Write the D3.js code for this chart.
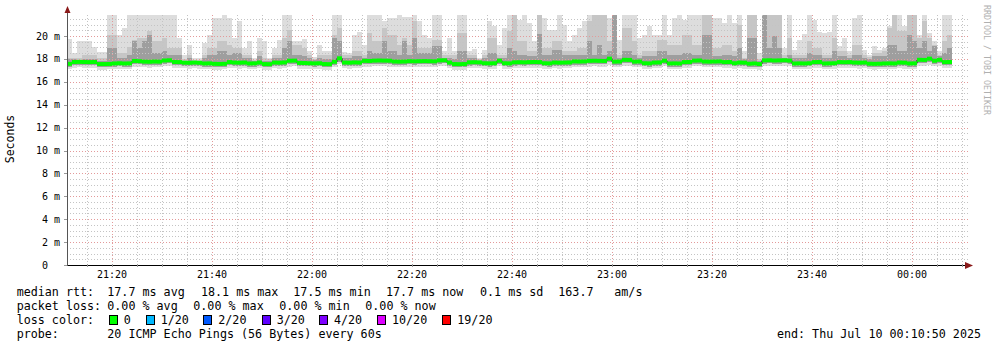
<!DOCTYPE html>
<html>
<head>
<meta charset="utf-8">
<script src="https://cdn.jsdelivr.net/npm/d3@7"></script>
<style>
  body { margin: 0; background: #fff; }
  text { font-family: "DejaVu Sans Mono", monospace; }
</style>
</head>
<body>
<div id="chart"></div>
<script>
// one column per minute, 21:11 -> 00:08 (ms)
var rttMedian = [17.57,17.73,17.74,17.73,17.72,17.73,17.55,17.55,17.56,17.60,17.62,17.60,17.61,17.82,17.80,17.76,17.75,17.77,17.76,17.86,17.88,17.73,17.72,17.67,17.66,17.68,17.66,17.60,17.61,17.57,17.56,17.57,17.72,17.68,17.67,17.68,17.60,17.61,17.68,17.55,17.54,17.68,17.67,17.69,17.84,
  17.85,17.65,17.64,17.62,17.61,17.62,17.55,17.54,17.75,18.05,17.68,17.67,17.69,17.68,17.83,17.82,17.85,17.86,17.85,17.84,17.77,17.76,17.77,17.80,17.79,17.80,17.81,17.80,17.79,17.87,17.88,17.68,17.55,17.54,17.55,17.70,17.71,17.70,17.62,17.61,17.62,17.84,17.62,17.61,
  17.70,17.71,17.70,17.72,17.73,17.72,17.62,17.61,17.68,17.67,17.68,17.69,17.78,17.77,17.78,17.83,17.84,17.83,17.82,18.02,17.76,17.77,17.92,17.91,17.76,17.77,17.62,17.61,17.68,17.69,17.84,17.60,17.61,17.60,17.72,17.73,17.85,17.86,17.77,17.76,17.77,17.78,17.72,17.73,17.62,
  17.68,17.67,17.58,17.60,17.55,17.87,17.88,17.86,17.87,17.88,17.85,17.60,17.61,17.60,17.62,17.72,17.73,17.60,17.61,17.62,17.72,17.71,17.72,17.68,17.67,17.68,17.58,17.57,17.58,17.60,17.61,17.60,17.68,17.67,17.60,17.61,17.92,17.91,18.02,17.84,17.92,17.72,17.73];

var rttMax = [19.74,18.51,19.59,19.59,19.59,19.01,18.60,18.60,21.85,21.85,20.12,20.70,21.85,21.85,21.85,21.85,21.85,21.85,21.85,21.85,21.85,21.85,19.83,18.37,19.24,18.08,18.08,19.39,20.12,21.57,21.57,21.85,21.57,19.83,21.28,18.95,19.53,18.10,19.83,19.53,18.08,18.95,19.68,21.85,21.85,
  19.59,19.59,19.74,18.66,18.20,19.24,18.66,18.66,21.85,21.85,18.60,18.51,20.12,20.35,19.18,21.85,21.85,21.85,21.28,21.57,21.57,21.85,21.70,21.70,21.85,21.28,20.12,19.83,21.85,21.85,18.66,19.83,18.66,21.85,21.85,18.66,18.89,18.08,18.80,21.28,20.84,19.24,20.70,21.85,
  21.85,21.42,21.85,21.13,19.53,21.85,21.57,20.55,20.55,21.85,20.98,19.53,20.12,20.70,21.28,21.85,21.85,21.85,21.85,21.57,21.85,19.68,21.85,21.85,21.85,19.83,20.12,20.84,20.12,20.12,21.85,20.12,21.57,21.85,21.42,21.85,21.85,21.85,21.85,21.85,21.57,21.57,21.13,21.85,21.13,
  21.85,18.66,21.85,21.85,18.51,21.85,21.85,21.85,21.85,18.95,21.85,18.80,19.68,20.20,21.85,21.42,20.35,20.26,20.35,21.85,19.10,19.83,18.66,21.57,21.85,18.80,18.37,19.10,18.80,18.95,20.84,21.85,21.85,20.84,21.85,21.85,20.12,21.85,20.26,19.53,18.66,21.85,21.85];

var rttP90 = [18.08,18.08,18.08,18.37,18.37,18.37,18.08,18.08,20.12,20.12,18.51,18.51,19.01,19.68,19.83,19.83,20.40,19.53,19.53,19.83,18.95,18.95,18.95,17.95,18.37,17.92,17.92,18.37,18.95,18.95,19.53,19.53,19.24,18.95,18.95,18.37,18.37,17.94,18.66,18.08,17.95,18.37,18.37,19.83,20.50,
  19.24,19.24,18.95,18.37,18.00,18.37,18.37,18.37,20.12,20.70,18.37,18.37,18.66,18.66,18.37,20.26,19.53,19.53,20.70,20.12,20.12,19.24,19.83,19.24,21.28,18.95,18.95,18.95,19.68,19.68,18.37,18.37,18.37,20.26,20.26,18.37,18.37,17.95,18.37,19.83,19.83,18.37,18.37,20.40,
  21.85,19.53,19.53,18.66,18.66,21.85,18.95,18.95,19.53,19.53,18.66,18.66,18.66,18.95,18.95,21.28,21.85,21.85,21.85,19.53,21.85,18.37,20.70,20.70,19.53,18.37,18.66,18.66,18.66,19.68,19.68,19.24,19.24,19.24,20.12,20.12,19.24,19.24,21.85,21.85,18.95,18.95,19.24,19.24,18.66,
  20.98,18.08,21.85,21.85,18.00,21.85,21.85,21.85,21.85,18.37,19.83,18.37,18.37,18.37,19.53,18.95,18.95,18.37,18.37,19.83,18.66,18.66,18.37,19.24,19.24,18.37,18.20,18.51,18.51,18.66,20.70,21.85,20.40,20.40,21.85,21.85,19.80,21.28,19.83,19.20,18.37,19.53,20.12];

var rttP75 = [17.95,17.95,17.92,18.00,18.00,18.00,17.85,17.85,18.95,18.95,18.08,18.08,18.37,19.53,18.95,19.53,20.12,18.51,18.51,18.66,18.37,18.37,18.37,17.85,18.08,17.82,17.82,18.08,18.37,18.37,18.66,18.66,18.37,18.51,18.51,18.08,18.08,17.85,18.22,17.85,17.82,18.08,18.08,18.95,19.53,
  18.37,18.37,18.22,18.08,17.90,18.08,18.00,18.00,19.83,19.53,18.08,18.08,18.22,18.22,18.08,18.66,18.51,18.51,19.53,18.66,18.66,18.37,19.53,18.37,19.83,18.51,18.51,18.51,19.10,19.10,18.08,18.08,18.00,18.66,18.66,18.08,18.08,17.85,18.08,18.51,18.51,18.08,18.08,18.95,
  18.66,18.37,18.37,18.22,18.22,20.20,18.37,18.37,18.80,18.80,18.37,18.37,18.37,18.37,18.37,19.53,18.37,19.24,18.37,18.66,21.85,18.08,18.66,18.66,18.37,18.08,18.22,18.22,18.22,18.66,18.66,18.37,18.37,18.37,18.51,18.51,18.37,18.37,20.12,20.12,18.22,18.22,18.37,18.37,18.22,
  18.95,17.95,19.83,19.83,17.85,21.85,18.95,19.97,18.95,18.08,18.37,18.08,18.08,18.08,18.51,18.37,18.37,18.08,18.08,18.66,18.22,18.22,18.08,18.37,18.37,18.08,17.95,18.22,18.22,18.22,19.24,19.24,18.66,18.66,20.12,19.53,18.95,19.53,18.66,19.10,18.22,18.51,18.95];

var rttLow = [17.30,17.45,17.46,17.44,17.43,17.45,17.27,17.27,17.28,17.32,17.34,17.32,17.33,17.53,17.52,17.48,17.47,17.49,17.48,17.57,17.60,17.45,17.44,17.39,17.38,17.40,17.38,17.32,17.33,17.29,17.28,17.29,17.44,17.40,17.39,17.40,17.32,17.33,17.40,17.27,17.26,17.40,17.39,17.41,17.55,
  17.56,17.37,17.36,17.34,17.33,17.34,17.27,17.26,17.47,17.75,17.40,17.39,17.41,17.40,17.55,17.54,17.57,17.58,17.57,17.56,17.49,17.48,17.49,17.52,17.51,17.52,17.53,17.52,17.51,17.59,17.60,17.40,17.27,17.26,17.27,17.42,17.43,17.42,17.34,17.33,17.34,17.56,17.34,17.33,
  17.42,17.43,17.42,17.44,17.45,17.44,17.34,17.33,17.40,17.39,17.40,17.41,17.50,17.49,17.50,17.55,17.56,17.55,17.54,17.72,17.48,17.49,17.64,17.63,17.48,17.49,17.34,17.33,17.40,17.41,17.56,17.32,17.33,17.32,17.44,17.45,17.57,17.58,17.49,17.48,17.49,17.50,17.44,17.45,17.34,
  17.40,17.39,17.30,17.32,17.27,17.59,17.60,17.58,17.59,17.60,17.57,17.32,17.33,17.32,17.34,17.44,17.45,17.32,17.33,17.34,17.44,17.43,17.44,17.40,17.39,17.40,17.30,17.29,17.30,17.32,17.33,17.32,17.40,17.39,17.32,17.33,17.64,17.63,17.72,17.56,17.64,17.44,17.45];

var rttMin = [17.08,17.22,17.25,17.20,17.24,17.22,17.05,17.06,17.10,17.12,17.15,17.10,17.12,17.30,17.28,17.25,17.22,17.27,17.26,17.35,17.36,17.22,17.20,17.18,17.15,17.20,17.16,17.10,17.12,17.06,17.05,17.08,17.22,17.18,17.16,17.20,17.10,17.12,17.18,17.04,17.05,17.18,17.16,17.20,17.32,
  17.35,17.15,17.14,17.12,17.10,17.12,17.05,17.04,17.25,17.55,17.18,17.16,17.20,17.18,17.32,17.30,17.35,17.36,17.34,17.33,17.26,17.25,17.27,17.30,17.28,17.30,17.31,17.30,17.28,17.36,17.38,17.18,17.05,17.04,17.05,17.20,17.21,17.20,17.12,17.10,17.12,17.34,17.12,17.10,
  17.20,17.21,17.20,17.22,17.23,17.22,17.12,17.10,17.18,17.16,17.18,17.20,17.28,17.26,17.28,17.32,17.34,17.33,17.31,17.50,17.25,17.27,17.42,17.40,17.25,17.27,17.12,17.10,17.18,17.20,17.34,17.10,17.12,17.10,17.22,17.23,17.35,17.36,17.26,17.25,17.27,17.28,17.22,17.23,17.12,
  17.18,17.16,17.08,17.10,17.05,17.36,17.38,17.35,17.36,17.38,17.34,17.10,17.12,17.10,17.12,17.22,17.23,17.10,17.12,17.12,17.22,17.20,17.22,17.18,17.16,17.18,17.08,17.06,17.08,17.10,17.12,17.10,17.18,17.16,17.10,17.12,17.42,17.40,17.50,17.34,17.42,17.22,17.23];

var yTicks = [0, 2, 4, 6, 8, 10, 12, 14, 16, 18, 20];
var lossLabels = ["0", "1/20", "2/20", "3/20", "4/20", "10/20", "19/20"];
var lossColors = ["#00ff00", "#00b8ff", "#0059ff", "#5e00ff", "#7e00ff", "#dd00ff", "#ff0000"];

var legendRows = [
    [["median rtt:", 16.7], ["17.7 ms avg", 107.3], ["18.1 ms max", 201], ["17.5 ms min", 293.3], ["17.7 ms now", 386], ["0.1 ms sd", 480], ["163.7", 558.3], ["am/s", 614.3]],
    [["packet loss:", 16.7], ["0.00 % avg", 107.3], ["0.00 % max", 193.3], ["0.00 % min", 279.3], ["0.00 % now", 365.3]],
    [["loss color:", 16.7]],
    [["probe:", 16.7], ["20 ICMP Echo Pings (56 Bytes) every 60s", 107.3]]
];

var t0 = Date.UTC(2025, 6, 9, 21, 11, 0);
var MIN = 60000;

var svg = d3.select("#chart").append("svg")
    .attr("width", 997)
    .attr("height", 347);

svg.append("rect").attr("width", 997).attr("height", 347).attr("fill", "#fff");

var x = d3.scaleUtc()
    .domain([new Date(t0), new Date(t0 + 180 * MIN)])
    .range([67, 967]);

var y = d3.scaleLinear()
    .domain([0, 22])
    .range([265, 13.1]);

function colX(i) { return x(new Date(t0 + i * MIN)); }
function px(v) { return Math.round(v) + 0.5; }

// smoke layers
var layers = [
    { lo: rttMin, hi: rttMax, color: "#dddddd" },
    { lo: rttLow, hi: rttP90, color: "#c6c6c6" },
    { lo: rttLow, hi: rttP75, color: "#9e9e9e" }
];

layers.forEach(function(layer) {
    svg.append("g").selectAll("rect")
        .data(rttMedian)
        .enter().append("rect")
        .attr("x", function(d, i) { return colX(i); })
        .attr("width", function(d, i) { return colX(i + 1) - colX(i); })
        .attr("y", function(d, i) { return y(layer.hi[i]); })
        .attr("height", function(d, i) { return y(layer.lo[i]) - y(layer.hi[i]); })
        .attr("fill", layer.color)
        .attr("shape-rendering", "crispEdges");
});

// grid: minor every 0.5 m / 5 min, major every 2 m / 20 min
var minorY = d3.range(1, 44).map(function(k) { return k / 2; });
var hGrid = svg.append("g");
minorY.forEach(function(v) {
    var major = v % 2 === 0;
    hGrid.append("path")
        .attr("d", "M67," + px(y(v)) + "H968")
        .attr("fill", "none")
        .attr("stroke", major ? "#e39a9a" : "#c4c4c4")
        .attr("stroke-width", 1)
        .attr("stroke-dasharray", "1,2");
});

var minorT = x.ticks(d3.utcMinute.every(5));
var vGrid = svg.append("g");
minorT.forEach(function(t) {
    var major = t.getUTCMinutes() % 20 === 0;
    vGrid.append("path")
        .attr("d", "M" + px(x(t)) + ",265V13")
        .attr("fill", "none")
        .attr("stroke", major ? "#e39a9a" : "#c4c4c4")
        .attr("stroke-width", 1)
        .attr("stroke-dasharray", "1,2");
});

// median line
var medLine = d3.line()
    .x(function(d) { return colX(d[0]); })
    .y(function(d) { return y(d[1]); })
    .curve(d3.curveStepAfter);
var medPts = rttMedian.map(function(v, i) { return [i, v]; });
medPts.push([rttMedian.length, rttMedian[rttMedian.length - 1]]);
svg.append("path")
    .attr("d", medLine(medPts))
    .attr("fill", "none")
    .attr("stroke", "#111")
    .attr("stroke-width", 1);

svg.append("g").selectAll("rect")
    .data(rttMedian)
    .enter().append("rect")
    .attr("x", function(d, i) { return colX(i); })
    .attr("width", function(d, i) { return colX(i + 1) - colX(i); })
    .attr("y", function(d) { return y(d) - 2; })
    .attr("height", 4)
    .attr("fill", lossColors[0]);

// axes
svg.append("path").attr("d", "M67,265.5H968").attr("stroke", "#000").attr("fill", "none");
svg.append("path").attr("d", "M67.5,266V11").attr("stroke", "#555").attr("fill", "none");
svg.append("path").attr("d", "M965,262 L973,265.5 L965,269 Z").attr("fill", "#8b1a1a");
svg.append("path").attr("d", "M64.5,13 L67.5,6 L70.5,13 Z").attr("fill", "#8b1a1a");

// small ticks
svg.append("g").selectAll("path").data(minorT).enter().append("path")
    .attr("d", function(d) { return "M" + px(x(d)) + ",264V267"; })
    .attr("stroke", "#999").attr("fill", "none");
svg.append("g").selectAll("path").data(yTicks).enter().append("path")
    .attr("d", function(d) { return "M64," + px(y(d)) + "H67"; })
    .attr("stroke", "#999").attr("fill", "none");

// tick labels
svg.append("g").selectAll("text").data(yTicks).enter().append("text")
    .attr("x", 60)
    .attr("y", function(d) { return y(d); })
    .attr("dy", "0.35em")
    .attr("text-anchor", "end")
    .attr("font-size", "10px")
    .attr("fill", "#000")
    .text(function(d) { return d === 0 ? "0\u00a0\u00a0" : d + " m"; });

var majorT = x.ticks(d3.utcMinute.every(20));
svg.append("g").selectAll("text").data(majorT).enter().append("text")
    .attr("x", function(d) { return x(d); })
    .attr("y", 278)
    .attr("text-anchor", "middle")
    .attr("font-size", "10px")
    .attr("fill", "#000")
    .text(d3.utcFormat("%H:%M"));

// axis titles
svg.append("text")
    .attr("transform", "translate(14,139) rotate(-90)")
    .attr("text-anchor", "middle")
    .attr("font-size", "11.5px")
    .attr("fill", "#000")
    .text("Seconds");

svg.append("text")
    .attr("transform", "translate(984,5) rotate(90)")
    .attr("text-anchor", "start")
    .attr("font-size", "8.3px")
    .attr("fill", "#b0b0b0")
    .text("RRDTOOL / TOBI OETIKER");

// legend
var legY = [296, 310, 324, 338];
legendRows.forEach(function(row, r) {
    svg.append("g").selectAll("text").data(row).enter().append("text")
        .attr("x", function(d) { return d[1]; })
        .attr("y", legY[r])
        .attr("font-size", "11.7px")
        .attr("fill", "#000")
        .text(function(d) { return d[0]; });
});

var boxX = [108.7, 145.7, 203.3, 261.7, 319, 377, 442.3];
var lossLeg = svg.append("g").selectAll("g").data(lossLabels).enter().append("g");
lossLeg.append("rect")
    .attr("x", function(d, i) { return Math.round(boxX[i]) + 0.5; })
    .attr("y", 315.5)
    .attr("width", 8).attr("height", 9)
    .attr("fill", function(d, i) { return lossColors[i]; })
    .attr("stroke", "#000");
lossLeg.append("text")
    .attr("x", function(d, i) { return boxX[i] + 15; })
    .attr("y", legY[2])
    .attr("font-size", "11.7px")
    .text(function(d) { return d; });

svg.append("text")
    .attr("x", 981).attr("y", legY[3])
    .attr("text-anchor", "end")
    .attr("font-size", "11.7px")
    .text("end: Thu Jul 10 00:10:50 2025");
</script>
</body>
</html>
